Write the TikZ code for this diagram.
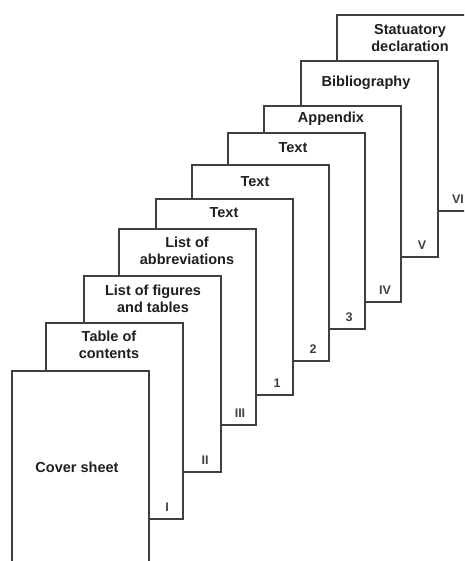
\documentclass[tikz,border=0pt]{standalone}
\usepackage{fontspec}
\setmainfont{Liberation Sans}
\usetikzlibrary{positioning}

\tikzset{
  page/.style={draw=black!75, fill=white, line width=2pt, minimum width=137pt,
    minimum height=196pt, anchor=north west, inner sep=0pt, outer sep=0pt},
  pagetitle/.style={font=\fontsize{14.5}{17}\selectfont\bfseries, align=center, text=black!88},
  pagenum/.style={font=\fontsize{12.5}{13}\selectfont\bfseries, text=black!75},
}

\begin{document}
\begin{tikzpicture}[x=1pt, y=-1pt]
  \useasboundingbox (0,0) rectangle (464,561);
  \clip (0,0) rectangle (464,561);
  % pages drawn from the back to the front, so each one hides the ones behind it
  % index / left / top / number / title x / title y / title
  \foreach \i/\l/\t/\n/\tx/\ty/\txt in {
      10/337/15/VI/410/38/{Statuatory\\declaration},
      9/301/61/V/366/83/{Bibliography},
      8/264/106/IV/331/119/{Appendix},
      7/228/133/3/293/148/{Text},
      6/192/165/2/255/182/{Text},
      5/156/199/1/224/213/{Text},
      4/119/229/III/187/251/{List of\\abbreviations},
      3/84/276/II/153/299/{List of figures\\and tables},
      2/46/323/I/109/345/{Table of\\contents},
      1/12/371/{}/77/467/{Cover sheet}} {
    \node[page] (p\i) at (\l,\t) {};
    \node[pagetitle] (t\i) at (\tx,\ty) {\txt};
    % page number in the strip at the lower right
    \node[pagenum, xshift=-16pt, yshift=12pt] (n\i) at (p\i.south east) {\n};
  }
\end{tikzpicture}
\end{document}
